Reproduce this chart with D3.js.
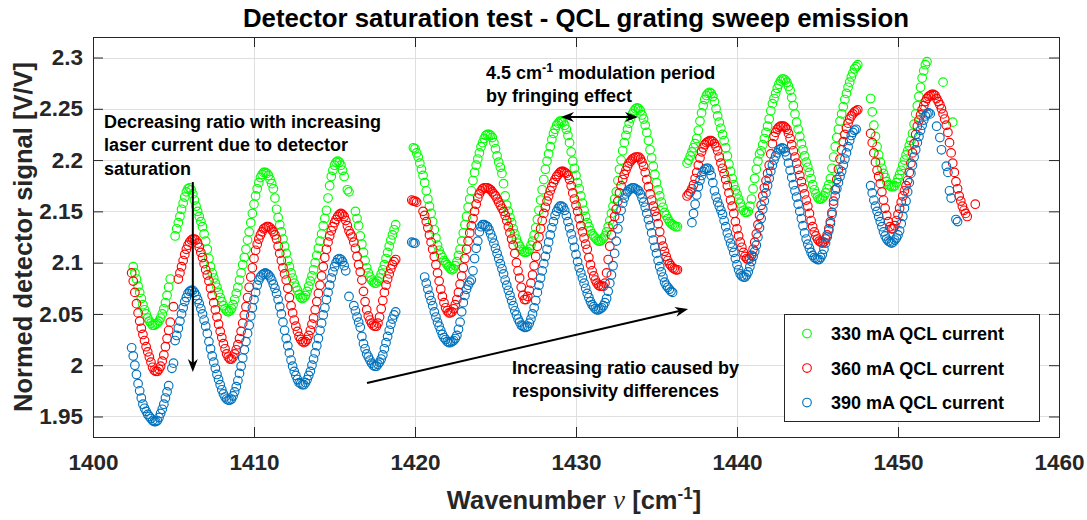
<!DOCTYPE html>
<html>
<head>
<meta charset="utf-8">
<script src="https://cdn.jsdelivr.net/npm/d3@7"></script>
<style>
  body { margin: 0; background: #fff; }
  svg { display: block; }
  text { font-family: "Liberation Sans", Arial, Helvetica, sans-serif; }
</style>
</head>
<body>
<svg id="chart" width="1087" height="520"></svg>
<script>
// Wavenumber sampling of the sweep (cm^-1); each segment is [start wavenumber, normed signals]
const STEP = 0.1;

const xTicks = [1400, 1410, 1420, 1430, 1440, 1450, 1460];
const yTicks = [1.95, 2, 2.05, 2.1, 2.15, 2.2, 2.25, 2.3];

const seriesLabels = ["330 mA QCL current", "360 mA QCL current", "390 mA QCL current"];
const seriesColors = ["#00ff00", "#ff0000", "#0072bd"];

const current330 = [
  [1402.5, [2.096,2.090,2.084,2.077,2.071,2.065,2.059,2.054,2.050,2.046,2.043,2.041,2.039,2.039,2.040,2.041,2.043,2.046,2.050,2.055,2.061,2.068,2.076,2.084]],
  [1405.1, [2.126,2.133,2.139,2.145,2.152,2.158,2.164,2.169,2.172,2.173,2.171,2.167,2.161,2.155,2.150,2.145,2.140,2.135,2.128,2.121,
            2.113,2.104,2.096,2.090,2.085,2.080,2.076,2.071,2.066,2.062,2.058,2.055,2.053,2.052,2.053,2.055,2.059,2.064,2.070,2.076,
            2.083,2.090,2.098,2.105,2.113,2.122,2.130,2.139,2.148,2.157,2.165,2.172,2.178,2.183,2.186,2.188,2.188,2.187,2.185,2.181,
            2.177,2.172,2.163,2.152,2.144,2.137,2.130,2.123,2.116,2.109,2.102,2.096,2.090,2.085,2.080,2.076,2.073,2.069,2.066,2.065,
            2.066,2.068,2.072,2.077,2.082,2.087,2.093,2.100,2.107,2.114,2.121,2.128,2.136,2.143,2.151,2.163,2.175,2.184,2.190,2.195,
            2.198,2.199,2.198,2.195,2.190,2.184]],
  [1415.8, [2.171,2.169]],
  [1416.3, [2.150,2.143,2.136,2.126,2.118,2.110,2.102,2.095,2.090,2.086,2.083,2.081,2.080,2.080,2.082,2.085,2.089,2.093,2.098,2.104,
            2.110,2.116,2.122,2.127,2.132,2.137]],
  [1419.9, [2.212,2.211,2.207,2.203,2.197,2.191,2.185,2.178,2.170,2.162,2.155,2.148,2.140,2.132,2.124,2.117,2.112,2.108,2.105,2.102,
            2.100,2.098,2.096,2.094,2.093,2.094,2.097,2.101,2.107,2.113,2.121,2.129,2.137,2.145,2.154,2.162,2.170,2.180,2.188,2.195,
            2.201,2.207,2.213,2.217,2.221,2.224,2.225,2.225,2.224,2.222,2.217,2.211,2.204,2.198,2.193,2.187,2.177,2.165,2.156,2.150,
            2.144,2.139,2.133,2.128,2.123,2.119,2.116,2.113,2.111,2.110,2.110,2.111,2.113,2.117,2.121,2.127,2.134,2.142,2.151,2.161,
            2.171,2.181,2.191,2.199,2.206,2.213,2.220,2.226,2.230,2.234,2.236,2.238,2.238,2.237,2.234,2.230,2.224,2.217,2.208,2.199,
            2.192,2.185,2.178,2.172,2.165,2.158,2.151,2.145,2.139,2.135,2.131,2.128,2.126,2.124,2.122,2.121,2.121,2.122,2.124,2.126,
            2.130,2.135,2.141,2.148,2.155,2.162,2.169,2.180,2.191,2.200,2.209,2.217,2.224,2.230,2.236,2.241,2.245,2.248,2.250,2.251,
            2.250,2.248,2.244,2.240,2.234,2.227,2.219,2.210,2.202,2.194,2.186,2.178,2.171,2.165,2.159,2.154,2.149,2.146,2.143,2.140,
            2.138,2.137,2.136,2.135,2.135]],
  [1436.9, [2.197,2.200,2.204,2.208,2.212,2.216,2.221,2.229,2.238,2.246,2.253,2.259,2.263,2.265,2.266,2.265,2.262,2.257,2.250,2.243,
            2.237,2.231,2.225,2.219,2.212,2.204,2.196,2.189,2.182,2.176,2.171,2.167,2.162,2.158,2.154,2.151,2.149,2.149,2.150,2.155,
            2.162,2.172,2.182,2.191,2.199,2.206,2.209,2.215,2.221,2.227,2.233,2.240,2.248,2.255,2.260,2.265,2.270,2.274,2.277,2.279,
            2.279,2.278,2.276,2.272,2.268,2.261,2.253,2.245,2.237,2.230,2.223,2.216,2.210,2.204,2.198,2.193,2.188,2.182,2.176,2.171,
            2.167,2.164,2.162,2.162,2.163,2.165,2.168,2.172,2.176,2.182,2.192,2.203,2.213,2.222,2.230,2.238,2.245,2.252,2.259,2.265,
            2.271,2.276,2.281,2.285,2.289,2.291,2.293]],
  [1448.3, [2.260,2.247,2.234,2.223,2.213,2.205,2.198,2.192,2.187,2.183,2.179,2.176,2.175,2.174,2.174,2.175,2.178,2.182,2.186,2.190,
            2.195,2.200,2.205,2.209,2.214,2.219,2.226,2.235,2.245,2.253,2.262,2.271,2.280,2.287,2.293,2.296]],
  [1452.8, [2.276]],
  [1453.4, [2.237]]
];

const current360 = [
  [1402.4, [2.090,2.082,2.071,2.060,2.051,2.043,2.036,2.030,2.024,2.018,2.013,2.008,2.003,1.998,1.995,1.994,1.994,1.996,1.999,2.004,
            2.010,2.018,2.026,2.034,2.042]],
  [1405.0, [2.057]],
  [1405.3, [2.084,2.090,2.096,2.102,2.108,2.113,2.117,2.120,2.122,2.123,2.123,2.122,2.119,2.115,2.110,2.105,2.099,2.093,2.088,2.082,
            2.075,2.068,2.061,2.054,2.047,2.040,2.033,2.027,2.021,2.016,2.011,2.008,2.006,2.006,2.008,2.011,2.015,2.020,2.026,2.033,
            2.041,2.049,2.057,2.066,2.076,2.086,2.095,2.104,2.112,2.118,2.123,2.127,2.130,2.133,2.134,2.135,2.135,2.134,2.132,2.130,
            2.127,2.123,2.116,2.109,2.102,2.095,2.089,2.083,2.075,2.066,2.058,2.051,2.044,2.038,2.033,2.028,2.025,2.023,2.022,2.023,
            2.025,2.029,2.034,2.040,2.046,2.054,2.062,2.070,2.078,2.087,2.096,2.105,2.113,2.120,2.126,2.131,2.135,2.139,2.142,2.145,
            2.147,2.148,2.147,2.145,2.141,2.136,2.131,2.128,2.125,2.120,2.114,2.106,2.098,2.091,2.083,2.072,2.062,2.054,2.048,2.044,
            2.041,2.039,2.038,2.038,2.041,2.047,2.055,2.063,2.071,2.078,2.084,2.089,2.094,2.098,2.101,2.103]],
  [1419.8, [2.161,2.160,2.160,2.159]],
  [1420.5, [2.150,2.146,2.140,2.134,2.127,2.120,2.113,2.106,2.098,2.090,2.082,2.074,2.067,2.061,2.056,2.053,2.051,2.051,2.052,2.055,
            2.059,2.064,2.071,2.079,2.087,2.095,2.104,2.113,2.121,2.129,2.136,2.143,2.150,2.157,2.163,2.167,2.170,2.172,2.173,2.173,
            2.173,2.172,2.171,2.169,2.167,2.165,2.162,2.159,2.156,2.153,2.150,2.146,2.141,2.135,2.129,2.123,2.117,2.109,2.100,2.092,
            2.085,2.076,2.068,2.064,2.064,2.067,2.073,2.080,2.088,2.097,2.106,2.116,2.125,2.133,2.141,2.148,2.154,2.160,2.165,2.170,
            2.174,2.178,2.181,2.184,2.186,2.188,2.189,2.189,2.188,2.187,2.185,2.181,2.175,2.168,2.162,2.156,2.150,2.143,2.136,2.130,
            2.124,2.118,2.113,2.105,2.098,2.092,2.087,2.083,2.080,2.078,2.077,2.077,2.077,2.080,2.090,2.103,2.116,2.127,2.137,2.145,
            2.152,2.160,2.168,2.175,2.181,2.186,2.190,2.194,2.197,2.199,2.201,2.202,2.203,2.203,2.203,2.201,2.198,2.194,2.188,2.181,
            2.174,2.167,2.161,2.155,2.150,2.145,2.138,2.130,2.122,2.116,2.111,2.106,2.102,2.099,2.097,2.095,2.094,2.093,2.093]],
  [1436.9, [2.165,2.167,2.169,2.172,2.176,2.182,2.188,2.195,2.202,2.208,2.212,2.215,2.217,2.218,2.219,2.219,2.218,2.216,2.213,2.209,
            2.203,2.197,2.192,2.187,2.181,2.175,2.168,2.161,2.155,2.148,2.140,2.133,2.126,2.120,2.115,2.110,2.106,2.104,2.103,2.104,
            2.107,2.113,2.120,2.128,2.137,2.146,2.156,2.165,2.173,2.180,2.187,2.195,2.206,2.216,2.223,2.227,2.230,2.232,2.233,2.233,
            2.233,2.232,2.230,2.226,2.221,2.215,2.209,2.203,2.197,2.191,2.185,2.179,2.173,2.167,2.161,2.155,2.148,2.141,2.135,2.130,
            2.126,2.123,2.121,2.120,2.119,2.120,2.123,2.127,2.133,2.140,2.149,2.160,2.171,2.181,2.191,2.201,2.210,2.218,2.225,2.231,
            2.236,2.240,2.243,2.245,2.247,2.248,2.249]],
  [1448.3, [2.226,2.217,2.207,2.198,2.190,2.184,2.177,2.169,2.161,2.153,2.146,2.140,2.135,2.133,2.133,2.136,2.141,2.147,2.153,2.159,
            2.165,2.170,2.175,2.180,2.188,2.197,2.207,2.216,2.225,2.233,2.239,2.244,2.249,2.253,2.257,2.260,2.262,2.263,2.264,2.264,
            2.263,2.260,2.257,2.254,2.250,2.245,2.240,2.234,2.227,2.217,2.207,2.197,2.188,2.179,2.172,2.165,2.160,2.155,2.151,2.148,
            2.145]],
  [1454.8, [2.157]]
];

const current390 = [
  [1402.4, [2.017,2.009,2.000,1.991,1.982,1.975,1.968,1.962,1.958,1.955,1.952,1.950,1.948,1.946,1.945,1.945,1.946,1.949,1.953,1.957,
            1.962,1.968,1.974,1.980]],
  [1404.9, [1.997,2.002]],
  [1405.1, [2.024,2.029,2.036,2.043,2.050,2.056,2.062,2.066,2.070,2.072,2.073,2.073,2.071,2.068,2.064,2.060,2.055,2.050,2.044,2.038,
            2.031,2.023,2.016,2.009,2.003,1.997,1.991,1.986,1.981,1.976,1.972,1.969,1.967,1.966,1.966,1.967,1.970,1.974,1.979,1.985,
            1.992,1.999,2.007,2.015,2.023,2.031,2.039,2.048,2.056,2.064,2.071,2.078,2.083,2.086,2.088,2.089,2.090,2.089,2.088,2.086,
            2.083,2.079,2.075,2.070,2.064,2.057,2.050,2.042,2.034,2.026,2.019,2.012,2.005,1.999,1.994,1.990,1.986,1.983,1.982,1.981,
            1.981,1.983,1.986,1.990,1.994,2.000,2.006,2.012,2.019,2.026,2.034,2.041,2.049,2.056,2.064,2.071,2.078,2.085,2.091,2.096,
            2.100,2.103,2.104,2.103,2.101,2.097,2.092]],
  [1415.9, [2.067]],
  [1416.2, [2.058,2.053,2.047,2.042,2.037,2.028,2.021,2.016,2.011,2.008,2.005,2.002,2.000,1.999,1.999,2.001,2.003,2.006,2.010,2.016,
            2.022,2.028,2.034,2.040,2.045,2.049,2.052]],
  [1419.8, [2.120,2.119,2.119]],
  [1420.6, [2.086,2.080,2.074,2.068,2.063,2.058,2.052,2.047,2.042,2.038,2.034,2.030,2.027,2.025,2.023,2.022,2.022,2.023,2.024,2.026,
            2.029,2.035,2.042,2.052,2.061,2.068,2.074,2.078,2.081,2.083,2.092,2.104,2.114,2.121,2.130,2.135,2.137,2.137,2.136,2.135,
            2.132,2.128,2.124,2.119,2.114,2.109,2.104,2.099,2.094,2.089,2.083,2.078,2.073,2.068,2.063,2.058,2.053,2.049,2.045,2.042,
            2.039,2.038,2.037,2.037,2.038,2.041,2.045,2.050,2.056,2.063,2.071,2.078,2.085,2.092,2.099,2.106,2.113,2.120,2.127,2.134,
            2.140,2.146,2.150,2.153,2.155,2.155,2.154,2.151,2.146,2.140,2.134,2.128,2.122,2.115,2.108,2.101,2.095,2.090,2.085,2.080,
            2.075,2.070,2.066,2.062,2.059,2.057,2.055,2.054,2.054,2.055,2.056,2.058,2.061,2.065,2.072,2.080,2.088,2.097,2.109,2.121,
            2.133,2.143,2.151,2.158,2.163,2.167,2.169,2.171,2.172,2.173,2.173,2.172,2.171,2.170,2.167,2.163,2.159,2.154,2.148,2.142,
            2.136,2.129,2.122,2.115,2.109,2.102,2.096,2.091,2.086,2.081,2.078,2.076,2.074,2.072,2.071]],
  [1437.2, [2.139,2.148,2.157,2.166,2.174,2.180,2.185,2.189,2.191,2.192,2.192,2.190,2.185,2.178,2.170,2.164,2.159,2.155,2.151,2.147,
            2.141,2.135,2.129,2.124,2.119,2.115,2.110,2.104,2.098,2.093,2.089,2.087,2.086,2.086,2.088,2.091,2.096,2.101,2.106,2.111,
            2.117,2.125,2.134,2.143,2.152,2.160,2.168,2.175,2.182,2.189,2.195,2.200,2.204,2.207,2.210,2.211,2.212,2.211,2.208,2.204,
            2.197,2.190,2.183,2.176,2.170,2.164,2.157,2.150,2.143,2.136,2.129,2.123,2.118,2.114,2.110,2.107,2.105,2.104,2.103,2.103,
            2.105,2.108,2.113,2.119,2.125,2.131,2.138,2.147,2.157,2.165,2.172,2.178,2.184,2.189,2.195,2.201,2.207,2.213,2.219,2.224,
            2.227,2.229,2.230]],
  [1448.3, [2.175,2.168,2.161,2.155,2.150,2.145,2.140,2.135,2.130,2.126,2.123,2.121,2.120,2.119,2.120,2.122,2.124,2.127,2.131,2.138,
            2.145,2.153,2.160,2.169,2.178,2.187,2.195,2.203,2.210,2.217,2.223,2.229,2.234,2.239,2.243,2.245,2.246,2.245]],
  [1452.4, [2.233]],
  [1452.6, [2.222,2.210]],
  [1453.0, [2.194,2.188,2.170,2.163]],
  [1453.6, [2.142,2.140]]
];

const seriesData = [current330, current360, current390];

// ---------------------------------------------------------------------------
const W = 1087, H = 520;
const plot = { left: 93, right: 1059, top: 37, bottom: 437 };

const svg = d3.select("#chart");
svg.append("rect").attr("width", W).attr("height", H).attr("fill", "#fff");

const x = d3.scaleLinear().domain([1400, 1460]).range([plot.left, plot.right]);
const y = d3.scaleLinear().domain([1.93, 2.32]).range([plot.bottom, plot.top]);

const AXIS = "#262626";
const fmtY = d => String(+d.toFixed(2));

// grid
const grid = svg.append("g").attr("stroke", "#dfdfdf").attr("stroke-width", 1);
grid.selectAll("line.gx").data(xTicks).join("line").attr("class", "gx")
  .attr("x1", d => Math.round(x(d)) + 0.5).attr("x2", d => Math.round(x(d)) + 0.5)
  .attr("y1", plot.top).attr("y2", plot.bottom);
grid.selectAll("line.gy").data(yTicks).join("line").attr("class", "gy")
  .attr("y1", d => Math.round(y(d)) + 0.5).attr("y2", d => Math.round(y(d)) + 0.5)
  .attr("x1", plot.left).attr("x2", plot.right);

// markers
const toPoints = segs => segs.flatMap(([x0, vals]) =>
  vals.map((v, i) => ({ nu: +(x0 + i * STEP).toFixed(2), v })));

seriesData.forEach((segs, k) => {
  svg.append("g")
    .attr("fill", "none").attr("stroke", seriesColors[k]).attr("stroke-width", 1.15)
    .selectAll("circle").data(toPoints(segs)).join("circle")
    .attr("cx", d => x(d.nu)).attr("cy", d => y(d.v)).attr("r", 4.3);
});

// axes (ticks point inward on all four sides)
function styleAxis(g) {
  g.select(".domain").remove();
  g.selectAll("line").attr("stroke", AXIS);
  g.attr("font-family", null).attr("font-size", null);
  g.selectAll("text").attr("fill", AXIS)
    .style("font-size", "22.5px").style("font-weight", "bold");
}
svg.append("g").attr("transform", `translate(0,${plot.bottom})`)
  .call(d3.axisBottom(x).tickValues(xTicks).tickSizeInner(-10).tickSizeOuter(0)
    .tickPadding(17).tickFormat(d3.format("d")))
  .call(styleAxis);
svg.append("g").attr("transform", `translate(0,${plot.top})`)
  .call(d3.axisTop(x).tickValues(xTicks).tickSizeInner(-10).tickSizeOuter(0).tickFormat(""))
  .call(styleAxis);
svg.append("g").attr("transform", `translate(${plot.left},0)`)
  .call(d3.axisLeft(y).tickValues(yTicks).tickSizeInner(-10).tickSizeOuter(0)
    .tickPadding(10).tickFormat(fmtY))
  .call(styleAxis);
svg.append("g").attr("transform", `translate(${plot.right},0)`)
  .call(d3.axisRight(y).tickValues(yTicks).tickSizeInner(-10).tickSizeOuter(0).tickFormat(""))
  .call(styleAxis);

svg.append("rect")
  .attr("x", plot.left + 0.5).attr("y", plot.top + 0.5)
  .attr("width", plot.right - plot.left).attr("height", plot.bottom - plot.top)
  .attr("fill", "none").attr("stroke", AXIS).attr("stroke-width", 1);

// title and axis labels
svg.append("text").attr("x", (plot.left + plot.right) / 2).attr("y", 27)
  .attr("text-anchor", "middle").attr("fill", "#000")
  .style("font-size", "25.8px").style("font-weight", "bold")
  .text("Detector saturation test - QCL grating sweep emission");

const xl = svg.append("text").attr("x", (plot.left + plot.right) / 2 - 2).attr("y", 509)
  .attr("text-anchor", "middle").attr("fill", AXIS)
  .style("font-size", "25.5px").style("font-weight", "bold");
xl.append("tspan").text("Wavenumber ");
xl.append("tspan").text("\u03BD")
  .style("font-family", "'Liberation Serif','DejaVu Serif',serif")
  .style("font-style", "italic").style("font-weight", "normal").style("font-size", "27px");
xl.append("tspan").text(" [cm");
xl.append("tspan").text("-1").attr("dy", -10).style("font-size", "17px");
xl.append("tspan").text("]").attr("dy", 10);

svg.append("text")
  .attr("transform", `translate(32,${(plot.top + plot.bottom) / 2}) rotate(-90)`)
  .attr("text-anchor", "middle").attr("fill", AXIS)
  .style("font-size", "25.5px").style("font-weight", "bold")
  .text("Normed detector signal [V/V]");

// legend
const legend = svg.append("g");
legend.append("rect").attr("x", 784.5).attr("y", 314.5).attr("width", 255).attr("height", 107)
  .attr("fill", "#fff").attr("stroke", AXIS).attr("stroke-width", 1);
seriesLabels.forEach((lab, i) => {
  const cy = 333.5 + i * 34.5;
  legend.append("circle").attr("cx", 807).attr("cy", cy).attr("r", 4.3)
    .attr("fill", "none").attr("stroke", seriesColors[i]).attr("stroke-width", 1.15);
  legend.append("text").attr("x", 831).attr("y", cy + 6.5).attr("fill", "#000")
    .style("font-size", "18px").style("font-weight", "bold").text(lab);
});

// annotations (anchored in data units)
const note = svg.append("g").attr("fill", "#000")
  .style("font-size", "18px").style("font-weight", "bold");

function textBlock(nu, v, lines, lh) {
  lines.forEach((ln, i) => {
    note.append("text").attr("x", x(nu)).attr("y", y(v) + i * lh).text(ln);
  });
}
textBlock(1400.68, 2.2313, ["Decreasing ratio with increasing", "laser current due to detector", "saturation"], 23.5);
textBlock(1426.02, 1.9914, ["Increasing ratio caused by", "responsivity differences"], 22.5);

const fr = note.append("text").attr("x", x(1424.41)).attr("y", y(2.2791));
fr.append("tspan").text("4.5 cm");
fr.append("tspan").text("-1").attr("dy", -7).style("font-size", "12.5px");
fr.append("tspan").text(" modulation period").attr("dy", 7);
note.append("text").attr("x", x(1424.41)).attr("y", y(2.2791) + 23.5).text("by fringing effect");

// arrows
const arrows = svg.append("g");
function head(px, py, ang) {
  const L = 13, Wd = 5, N = 4;
  const c = Math.cos(ang), s = Math.sin(ang);
  const pt = (a, b) => [px + a * c - b * s, py + a * s + b * c];
  arrows.append("path")
    .attr("d", "M" + [pt(0, 0), pt(-L, Wd), pt(-L + N, 0), pt(-L, -Wd)].join("L") + "Z")
    .attr("fill", "#000");
}
function arrow(n1, v1, n2, v2, both) {
  const x1 = x(n1), y1 = y(v1), x2 = x(n2), y2 = y(v2);
  const ang = Math.atan2(y2 - y1, x2 - x1);
  const back = 9;
  const sx = both ? x1 + back * Math.cos(ang) : x1, sy = both ? y1 + back * Math.sin(ang) : y1;
  arrows.append("line")
    .attr("x1", sx).attr("y1", sy)
    .attr("x2", x2 - back * Math.cos(ang)).attr("y2", y2 - back * Math.sin(ang))
    .attr("stroke", "#000").attr("stroke-width", 2);
  head(x2, y2, ang);
  if (both) head(x1, y1, ang + Math.PI);
}
arrow(1406.2, 2.1786, 1406.2, 1.9934, false);
arrow(1429.07, 2.242, 1433.85, 2.242, true);
arrow(1417.02, 1.9827, 1436.96, 2.0548, false);
</script>
</body>
</html>
